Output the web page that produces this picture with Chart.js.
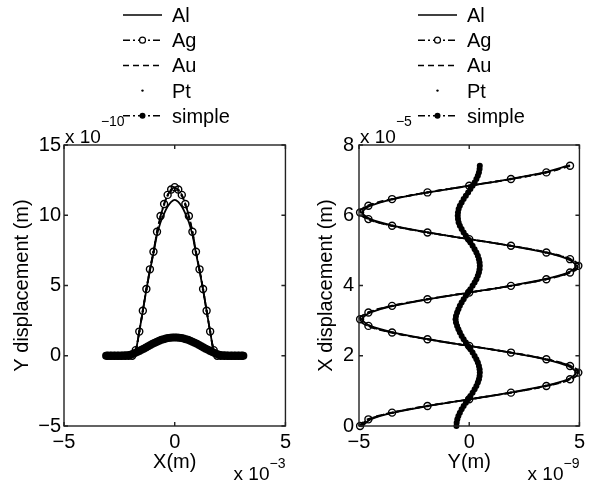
<!DOCTYPE html>
<html>
<head>
<meta charset="utf-8">
<title>Displacement</title>
<script src="https://cdn.jsdelivr.net/npm/chart.js@4.4.1/dist/chart.umd.min.js"></script>
<style>
  body { margin: 0; background: #fff; }
  #wrap { position: relative; width: 589px; height: 485px; }
  canvas { position: absolute; top: 0; }
  #left { left: 0; }
  #right { left: 295px; }
</style>
</head>
<body>
<div id="wrap">
  <canvas id="left" width="295" height="485"></canvas>
  <canvas id="right" width="294" height="485"></canvas>
</div>
<script>
const seriesNames = ['Al', 'Ag', 'Au', 'Pt', 'simple'];

// left panel: X (x 1e-3 m) horizontal, Y displacement (x 1e-10 m) vertical
const leftX = [-3.04, -2.88, -2.72, -2.56, -2.4, -2.24, -2.08, -1.92, -1.76, -1.6, -1.44, -1.28, -1.12,
  -0.96, -0.8, -0.64, -0.48, -0.32, -0.16, 0, 0.16, 0.32, 0.48, 0.64, 0.8, 0.96, 1.12, 1.28, 1.44,
  1.6, 1.76, 1.92, 2.08, 2.24, 2.4, 2.56, 2.72, 2.88, 3.04];
const leftAl = [0, 0, 0, 0, 0, 0, 0, 0, 0.4, 1.72, 3.2, 4.7, 6.05, 7.3, 8.6, 9.5, 10.12, 10.62, 10.95, 11.1,
  10.95, 10.62, 10.12, 9.5, 8.6, 7.3, 6.05, 4.7, 3.2, 1.72, 0.4, 0, 0, 0, 0, 0, 0, 0, 0];
const leftAg = [0, 0, 0, 0, 0, 0, 0, 0, 0.4, 1.72, 3.2, 4.75, 6.15, 7.4, 8.83, 9.95, 10.8, 11.45, 11.83, 12.0,
  11.83, 11.45, 10.8, 9.95, 8.83, 7.4, 6.15, 4.75, 3.2, 1.72, 0.4, 0, 0, 0, 0, 0, 0, 0, 0];
const leftAu = [0, 0, 0, 0, 0, 0, 0, 0, 0.4, 1.72, 3.2, 4.72, 6.12, 7.38, 8.8, 9.92, 10.78, 11.42, 11.8, 11.95,
  11.8, 11.42, 10.78, 9.92, 8.8, 7.38, 6.12, 4.72, 3.2, 1.72, 0.4, 0, 0, 0, 0, 0, 0, 0, 0];
const leftPt = [0, 0, 0, 0, 0, 0, 0, 0, 0.4, 1.72, 3.2, 4.72, 6.1, 7.38, 8.8, 9.9, 10.75, 11.4, 11.75, 11.9,
  11.75, 11.4, 10.75, 9.9, 8.8, 7.38, 6.1, 4.72, 3.2, 1.72, 0.4, 0, 0, 0, 0, 0, 0, 0, 0];
const leftSimpleX = [-3.1, -3.0, -2.9, -2.8, -2.7, -2.6, -2.5, -2.4, -2.3, -2.2, -2.1, -2.0, -1.9, -1.8,
  -1.7, -1.6, -1.5, -1.4, -1.3, -1.2, -1.1, -1.0, -0.9, -0.8, -0.7, -0.6, -0.5, -0.4, -0.3, -0.2, -0.1,
  0, 0.1, 0.2, 0.3, 0.4, 0.5, 0.6, 0.7, 0.8, 0.9, 1.0, 1.1, 1.2, 1.3, 1.4, 1.5, 1.6, 1.7, 1.8, 1.9, 2.0,
  2.1, 2.2, 2.3, 2.4, 2.5, 2.6, 2.7, 2.8, 2.9, 3.0, 3.1];
const leftSimple = [0, 0, 0, 0, 0, 0, 0, 0, 0.01, 0.02, 0.04, 0.08, 0.13, 0.19, 0.26, 0.34, 0.42, 0.5,
  0.59, 0.68, 0.77, 0.85, 0.93, 1.0, 1.07, 1.13, 1.18, 1.22, 1.255, 1.28, 1.295, 1.3,
  1.295, 1.28, 1.255, 1.22, 1.18, 1.13, 1.07, 1.0, 0.93, 0.85, 0.77, 0.68, 0.59, 0.5, 0.42, 0.34, 0.26,
  0.19, 0.13, 0.08, 0.04, 0.02, 0.01, 0, 0, 0, 0, 0, 0, 0, 0];

// right panel: Y (x 1e-9 m) horizontal, X displacement (x 1e-5 m) vertical
const rightXDisp = [0, 0.19, 0.38, 0.57, 0.76, 0.95, 1.14, 1.33, 1.52, 1.71, 1.9, 2.09, 2.28, 2.47, 2.66,
  2.85, 3.04, 3.23, 3.42, 3.61, 3.8, 3.99, 4.18, 4.37, 4.56, 4.75, 4.94, 5.13, 5.32, 5.51, 5.7, 5.89,
  6.08, 6.27, 6.46, 6.65, 6.84, 7.03, 7.22, 7.41];
const rightAl = [-4.85, -4.481, -3.429, -1.856, 0, 1.856, 3.429, 4.481, 4.85, 4.481, 3.429, 1.856, 0,
  -1.856, -3.429, -4.481, -4.85, -4.481, -3.429, -1.856, 0, 1.856, 3.429, 4.481, 4.85, 4.481, 3.429,
  1.856, 0, -1.856, -3.429, -4.481, -4.85, -4.481, -3.429, -1.856, 0, 1.856, 3.429, 4.481];
const rightAg = [-4.95, -4.573, -3.5, -1.894, 0, 1.894, 3.5, 4.573, 4.95, 4.573, 3.5, 1.894, 0,
  -1.894, -3.5, -4.573, -4.95, -4.573, -3.5, -1.894, 0, 1.894, 3.5, 4.573, 4.95, 4.573, 3.5,
  1.894, 0, -1.894, -3.5, -4.573, -4.95, -4.573, -3.5, -1.894, 0, 1.894, 3.5, 4.573];
const rightAu = [-5, -4.619, -3.536, -1.913, 0, 1.913, 3.536, 4.619, 5, 4.619, 3.536, 1.913, 0,
  -1.913, -3.536, -4.619, -5, -4.619, -3.536, -1.913, 0, 1.913, 3.536, 4.619, 5, 4.619, 3.536,
  1.913, 0, -1.913, -3.536, -4.619, -5, -4.619, -3.536, -1.913, 0, 1.913, 3.536, 4.619];
const rightPt = [-4.9, -4.527, -3.465, -1.875, 0, 1.875, 3.465, 4.527, 4.9, 4.527, 3.465, 1.875, 0,
  -1.875, -3.465, -4.527, -4.9, -4.527, -3.465, -1.875, 0, 1.875, 3.465, 4.527, 4.9, 4.527, 3.465,
  1.875, 0, -1.875, -3.465, -4.527, -4.9, -4.527, -3.465, -1.875, 0, 1.875, 3.465, 4.527];
const rightSimpleXDisp = [0, 0.095, 0.19, 0.285, 0.38, 0.475, 0.57, 0.665, 0.76, 0.855, 0.95, 1.045,
  1.14, 1.235, 1.33, 1.425, 1.52, 1.615, 1.71, 1.805, 1.9, 1.995, 2.09, 2.185, 2.28, 2.375, 2.47, 2.565,
  2.66, 2.755, 2.85, 2.945, 3.04, 3.135, 3.23, 3.325, 3.42, 3.515, 3.61, 3.705, 3.8, 3.895, 3.99, 4.085,
  4.18, 4.275, 4.37, 4.465, 4.56, 4.655, 4.75, 4.845, 4.94, 5.035, 5.13, 5.225, 5.32, 5.415, 5.51,
  5.605, 5.7, 5.795, 5.89, 5.985, 6.08, 6.175, 6.27, 6.365, 6.46, 6.555, 6.65, 6.745, 6.84, 6.935,
  7.03, 7.125, 7.22, 7.315, 7.41];
const rightSimple = [-0.58, -0.57, -0.54, -0.491, -0.425, -0.344, -0.253, -0.153, -0.05, 0.053, 0.153,
  0.244, 0.325, 0.391, 0.44, 0.47, 0.48, 0.47, 0.44, 0.391, 0.325, 0.244, 0.153, 0.053, -0.05, -0.153,
  -0.253, -0.344, -0.425, -0.491, -0.55, -0.6, -0.62, -0.6, -0.55, -0.491, -0.425, -0.344, -0.253,
  -0.153, -0.05, 0.053, 0.153, 0.244, 0.325, 0.391, 0.44, 0.47, 0.48, 0.47, 0.44, 0.391, 0.325, 0.244,
  0.153, 0.053, -0.05, -0.153, -0.253, -0.344, -0.425, -0.48, -0.51, -0.52, -0.51, -0.48, -0.425,
  -0.344, -0.253, -0.153, -0.05, 0.053, 0.153, 0.244, 0.325, 0.391, 0.44, 0.47, 0.48];

const FONT = '"Liberation Sans", Arial, sans-serif';
Chart.defaults.font.family = FONT;
Chart.defaults.font.size = 20;
Chart.defaults.color = '#000';

function pairs(xs, ys) {
  return xs.map((x, i) => ({ x: x, y: ys[i] }));
}

function minus(v) {
  return v < 0 ? '\u2212' + Math.abs(v) : String(v);
}

// line style per series (matlab-ish: solid, dash-dot + o, dashed, dots, dash-dot + filled dot)
function makeDatasets(sets, simpleDot) {
  const base = { borderColor: '#000', backgroundColor: '#000', pointBorderColor: '#000',
    pointBackgroundColor: '#000', borderWidth: 1.8, tension: 0.3, clip: false, pointHoverRadius: 0 };
  return [
    Object.assign({}, base, { label: seriesNames[0], data: sets[0], showLine: true, pointRadius: 0, order: 5 }),
    Object.assign({}, base, { label: seriesNames[1], data: sets[1], showLine: true, borderDash: [7, 3, 2, 3],
      pointRadius: 3.5, pointBorderWidth: 1.4, pointBackgroundColor: 'rgba(0,0,0,0)', hollow: true, order: 4 }),
    Object.assign({}, base, { label: seriesNames[2], data: sets[2], showLine: true, borderDash: [6, 4],
      pointRadius: 0, order: 3 }),
    Object.assign({}, base, { label: seriesNames[3], data: sets[3], showLine: false, pointRadius: 1.2,
      pointBorderWidth: 0, order: 2 }),
    Object.assign({}, base, { label: seriesNames[4], data: sets[4], showLine: true, borderDash: [7, 3, 2, 3],
      pointRadius: simpleDot, pointBorderWidth: 0, order: 1 })
  ];
}

const legendPlugin = {
  id: 'lineLegend',
  afterDraw(chart) {
    const ctx = chart.ctx;
    ctx.save();
    chart.data.datasets.forEach((ds, i) => {
      const y = 15 + i * 25.2;
      const x0 = 123, x1 = 162, xm = 142.5;
      ctx.strokeStyle = '#000';
      ctx.fillStyle = '#000';
      if (ds.showLine) {
        ctx.lineWidth = 1.5;
        ctx.setLineDash(ds.borderDash || []);
        ctx.beginPath();
        ctx.moveTo(x0, y);
        ctx.lineTo(x1, y);
        ctx.stroke();
      }
      ctx.setLineDash([]);
      if (ds.pointRadius > 0) {
        ctx.beginPath();
        ctx.arc(xm, y, Math.min(ds.pointRadius, 3), 0, Math.PI * 2);
        if (ds.hollow) {
          ctx.fillStyle = '#fff';
          ctx.fill();
          ctx.lineWidth = 1.2;
          ctx.stroke();
        } else {
          ctx.fill();
        }
      }
      ctx.fillStyle = '#000';
      ctx.font = '20px ' + FONT;
      ctx.textAlign = 'left';
      ctx.textBaseline = 'alphabetic';
      ctx.fillText(ds.label, 172, y + 7);
    });
    ctx.restore();
  }
};

// axes box with inward ticks on all four sides + the "x 10^n" multipliers
const framePlugin = {
  id: 'frame',
  afterDatasetsDraw(chart, args, opts) {
    const { ctx, chartArea: a, scales } = chart;
    ctx.save();
    ctx.strokeStyle = '#222';
    ctx.lineWidth = 1.4;
    ctx.setLineDash([]);
    ctx.strokeRect(a.left, a.top, a.right - a.left, a.bottom - a.top);
    ctx.beginPath();
    scales.x.ticks.forEach(t => {
      const px = scales.x.getPixelForValue(t.value);
      ctx.moveTo(px, a.bottom); ctx.lineTo(px, a.bottom - 4);
      ctx.moveTo(px, a.top); ctx.lineTo(px, a.top + 4);
    });
    scales.y.ticks.forEach(t => {
      const py = scales.y.getPixelForValue(t.value);
      ctx.moveTo(a.left, py); ctx.lineTo(a.left + 4, py);
      ctx.moveTo(a.right, py); ctx.lineTo(a.right - 4, py);
    });
    ctx.stroke();

    ctx.fillStyle = '#000';
    ctx.textAlign = 'left';
    ctx.textBaseline = 'alphabetic';
    ctx.font = '19px ' + FONT;
    ctx.fillText('x 10', a.left + 1, a.top - 2);
    const w = ctx.measureText('x 10').width;
    ctx.font = '14px ' + FONT;
    ctx.fillText(opts.top, a.left + 1 + w, a.top - 19);

    const sw = ctx.measureText(opts.bottom).width;
    ctx.fillText(opts.bottom, a.right - sw, 468);
    ctx.font = '19px ' + FONT;
    const bw = ctx.measureText('x 10').width;
    ctx.fillText('x 10', a.right - sw - bw, 480);
    ctx.restore();
  }
};

function makeScales(xr, yr, xTitle, yTitle, yPad, yTitlePad) {
  return {
    x: {
      type: 'linear', min: xr[0], max: xr[1],
      ticks: { stepSize: xr[2], padding: 4, maxRotation: 0, callback: minus },
      grid: { display: false, drawTicks: false },
      border: { display: false },
      title: { display: true, text: xTitle, padding: { top: 0, bottom: 11 } },
      afterFit: s => { s.height = 59; }
    },
    y: {
      type: 'linear', min: yr[0], max: yr[1],
      ticks: { stepSize: yr[2], padding: yPad, callback: minus },
      grid: { display: false, drawTicks: false },
      border: { display: false },
      title: { display: true, text: yTitle, padding: { top: yTitlePad, bottom: 0 } },
      afterFit: s => { s.width = 64; }
    }
  };
}

function makeChart(id, datasets, scales, padRight, exps) {
  return new Chart(document.getElementById(id), {
    type: 'scatter',
    data: { datasets: datasets },
    options: {
      responsive: false,
      animation: false,
      devicePixelRatio: 1,
      events: [],
      layout: { padding: { top: 145, right: padRight, bottom: 0, left: 0 } },
      scales: scales,
      plugins: { legend: { display: false }, tooltip: { enabled: false }, frame: exps }
    },
    plugins: [framePlugin, legendPlugin]
  });
}

makeChart('left',
  makeDatasets([pairs(leftX, leftAl), pairs(leftX, leftAg), pairs(leftX, leftAu), pairs(leftX, leftPt),
    pairs(leftSimpleX, leftSimple)], 4),
  makeScales([-5, 5, 5], [-5, 15, 5], 'X(m)', 'Y displacement (m)', 3, 10),
  7, { top: '\u221210', bottom: '\u22123' });

makeChart('right',
  makeDatasets([pairs(rightAl, rightXDisp), pairs(rightAg, rightXDisp), pairs(rightAu, rightXDisp),
    pairs(rightPt, rightXDisp), pairs(rightSimple, rightSimpleXDisp)], 3),
  makeScales([-5, 5, 5], [0, 8, 2], 'Y(m)', 'X displacement (m)', 5, 19),
  6, { top: '\u22125', bottom: '\u22129' });
</script>
</body>
</html>
